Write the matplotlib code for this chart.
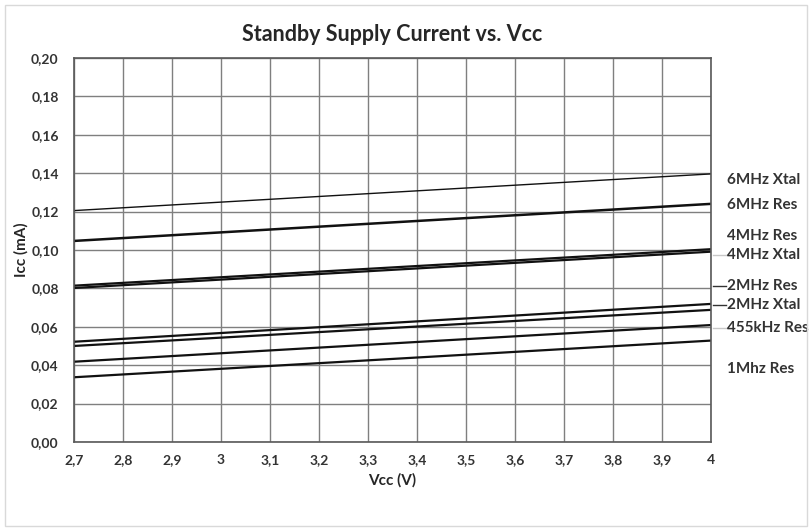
import matplotlib.pyplot as plt
from matplotlib.ticker import FuncFormatter
from matplotlib.patches import Rectangle

plt.rcParams['font.family'] = ['Lato', 'DejaVu Sans']
plt.rcParams['font.weight'] = 'bold'

# data (Icc in mA at Vcc = 2.7 V and 4.0 V)
vcc = [2.7, 4.0]
series = ['6MHz Xtal', '6MHz Res', '4MHz Res', '4MHz Xtal',
          '2MHz Res', '2MHz Xtal', '455kHz Res', '1Mhz Res']
icc_start = [0.1205, 0.1047, 0.0814, 0.0802, 0.0522, 0.0500, 0.0418, 0.0337]
icc_end = [0.1396, 0.1240, 0.1004, 0.0991, 0.0719, 0.0688, 0.0609, 0.0528]
label_y = [0.1365, 0.1234, 0.1073, 0.0974, 0.0812, 0.0714, 0.0594, 0.0380]
widths = [1.0, 1.8, 1.6, 1.6, 1.6, 1.6, 1.6, 1.6]

xticks = [2.7, 2.8, 2.9, 3.0, 3.1, 3.2, 3.3, 3.4, 3.5, 3.6, 3.7, 3.8, 3.9, 4.0]
yticks = [0.00, 0.02, 0.04, 0.06, 0.08, 0.10, 0.12, 0.14, 0.16, 0.18, 0.20]

fig = plt.figure(figsize=(8.12, 5.29), dpi=100)
fig.patches.append(Rectangle((0.006, 0.006), 0.988, 0.985, transform=fig.transFigure,
                             fill=False, edgecolor='#d9d9d9', lw=1))
ax = fig.add_axes([0.0911, 0.1645, 0.7845, 0.726])

for s, y0, y1, w in zip(series, icc_start, icc_end, widths):
    ax.plot(vcc, [y0, y1], color='#111111', lw=w, solid_capstyle='butt')

ax.set_xlim(2.7, 4.0)
ax.set_ylim(0, 0.20)
ax.set_xticks(xticks)
ax.set_yticks(yticks)
ax.xaxis.set_major_formatter(FuncFormatter(lambda v, p: ('%g' % round(v, 2)).replace('.', ',')))
ax.yaxis.set_major_formatter(FuncFormatter(lambda v, p: ('%.2f' % v).replace('.', ',')))
ax.tick_params(length=0, labelsize=10, colors='#333333')
ax.tick_params(axis='y', pad=11)
ax.tick_params(axis='x', pad=9)
ax.grid(True, color='#7f7f7f', lw=1)
ax.set_axisbelow(True)
for sp in ax.spines.values():
    sp.set_color('#595959')
    sp.set_linewidth(1.2)

# labels at the right end, excel style data labels
for s, ly in zip(series, label_y):
    ax.text(4.033, ly, s, fontsize=11, fontweight='bold', color='#333333',
            va='center', ha='left', clip_on=False)
for s in ['2MHz Res', '2MHz Xtal']:
    i = series.index(s)
    ax.plot([4.005, 4.03], [label_y[i], label_y[i]], color='#333333', lw=1, clip_on=False)
for s in ['4MHz Xtal', '455kHz Res']:
    i = series.index(s)
    ax.plot([4.005, 4.03], [label_y[i], label_y[i]], color='#c8c8c8', lw=1, clip_on=False)

ax.set_title('Standby Supply Current vs. Vcc', fontsize=15.5, fontweight='bold',
             color='#262626', pad=12)
ax.set_xlabel('Vcc (V)', fontsize=11, fontweight='bold', color='#262626', labelpad=5)
ax.set_ylabel('Icc (mA)', fontsize=11, fontweight='bold', color='#262626', labelpad=2)

fig.savefig('out.png', dpi=100, facecolor='white')
